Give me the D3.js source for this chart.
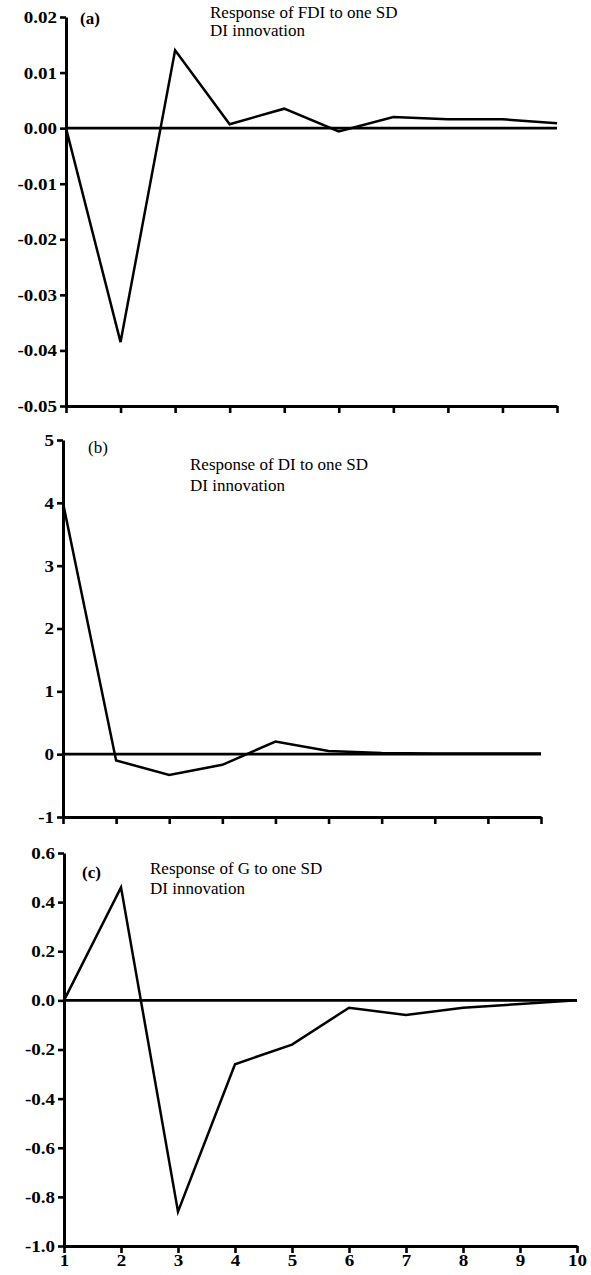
<!DOCTYPE html>
<html>
<head>
<meta charset="utf-8">
<script src="https://cdn.jsdelivr.net/npm/d3@7"></script>
<style>
  body { margin: 0; background: #fff; }
  svg { display: block; }
</style>
</head>
<body>
<div id="chart"></div>
<script>
// periods after the shock
var steps = [1, 2, 3, 4, 5, 6, 7, 8, 9, 10];

// impulse responses
var fdiResp = [0, -0.0385, 0.014, 0.0007, 0.0035, -0.0006, 0.002, 0.0016, 0.0016, 0.0009];
var diResp  = [4.0, -0.1, -0.33, -0.17, 0.2, 0.05, 0.02, 0.01, 0.01, 0.01];
var gResp   = [0, 0.46, -0.86, -0.26, -0.18, -0.03, -0.06, -0.03, -0.015, 0];

// y tick labels of each panel
var ticksA = ["0.02", "0.01", "0.00", "-0.01", "-0.02", "-0.03", "-0.04", "-0.05"];
var ticksB = ["5", "4", "3", "2", "1", "0", "-1"];
var ticksC = ["0.6", "0.4", "0.2", "0.0", "-0.2", "-0.4", "-0.6", "-0.8", "-1.0"];

var titles = [
  ["Response of FDI to one SD", "DI innovation"],
  ["Response of DI to one SD", "DI innovation"],
  ["Response of G to one SD", "DI innovation"]
];
var tags = ["(a)", "(b)", "(c)"];

// layout of the three panels (pixels)
var panels = [
  {values: fdiResp, ticks: ticksA, left: 66, right: 557, top: 17,  bottom: 406,
   tagX: 80, tagY: 24, tagBold: true, titleX: 210, titleY: 18, lineGap: 18, xLabels: false},
  {values: diResp,  ticks: ticksB, left: 63, right: 541, top: 440, bottom: 817,
   tagX: 88, tagY: 453, tagBold: false, titleX: 190, titleY: 470, lineGap: 21, xLabels: false},
  {values: gResp,   ticks: ticksC, left: 64, right: 577, top: 853, bottom: 1246,
   tagX: 82, tagY: 878, tagBold: true, titleX: 150, titleY: 874, lineGap: 20, xLabels: true}
];

var width = 591, height = 1275;
var serif = "'Liberation Serif', 'Times New Roman', serif";

var svg = d3.select("#chart")
  .append("svg")
    .attr("width", width)
    .attr("height", height);

panels.forEach(function(p, i) {
  var tickVals = p.ticks.map(Number);

  var x = d3.scaleLinear()
    .domain([1, 10])
    .range([p.left, p.right]);
  var y = d3.scaleLinear()
    .domain(d3.extent(tickVals))
    .range([p.bottom, p.top]);

  var g = svg.append("g");

  // y axis
  var yAxis = g.append("g")
    .attr("transform", "translate(" + p.left + ",0)")
    .call(d3.axisLeft(y)
      .tickValues(tickVals)
      .tickFormat(function(d, j) { return p.ticks[j]; })
      .tickSize(6)
      .tickSizeOuter(0)
      .tickPadding(2));

  // x axis
  var xAxis = g.append("g")
    .attr("transform", "translate(0," + p.bottom + ")")
    .call(d3.axisBottom(x)
      .tickValues(steps)
      .tickFormat(function(d) { return p.xLabels ? d : ""; })
      .tickSize(7)
      .tickSizeOuter(0)
      .tickPadding(1));

  [yAxis, xAxis].forEach(function(a) {
    a.select(".domain").attr("stroke", "#000").attr("stroke-width", 3);
    a.selectAll(".tick line").attr("stroke", "#000").attr("stroke-width", 2.6);
    a.selectAll(".tick text")
      .attr("fill", "#000")
      .attr("transform", "scale(1.12,1)")
      .style("font-family", serif)
      .style("font-weight", "bold")
      .style("font-size", "17px");
  });

  // zero line
  g.append("line")
    .attr("x1", x(1))
    .attr("x2", x(10))
    .attr("y1", y(0))
    .attr("y2", y(0))
    .attr("stroke", "#000")
    .attr("stroke-width", 2.6);

  // response line
  var line = d3.line()
    .x(function(d, j) { return x(steps[j]); })
    .y(function(d) { return y(d); });

  g.append("path")
    .datum(p.values)
    .attr("d", line)
    .attr("fill", "none")
    .attr("stroke", "#000")
    .attr("stroke-width", 2.5)
    .attr("stroke-linejoin", "miter");

  // panel tag and caption
  g.append("text")
    .attr("x", p.tagX)
    .attr("y", p.tagY)
    .text(tags[i])
    .style("font-family", serif)
    .style("font-weight", p.tagBold ? "bold" : "normal")
    .style("font-size", "17px");

  var t = g.append("text")
    .attr("x", p.titleX)
    .attr("y", p.titleY)
    .style("font-family", serif)
    .style("font-size", "17px");
  titles[i].forEach(function(s, k) {
    t.append("tspan")
      .attr("x", p.titleX)
      .attr("dy", k === 0 ? 0 : p.lineGap)
      .text(s);
  });
});
</script>
</body>
</html>
